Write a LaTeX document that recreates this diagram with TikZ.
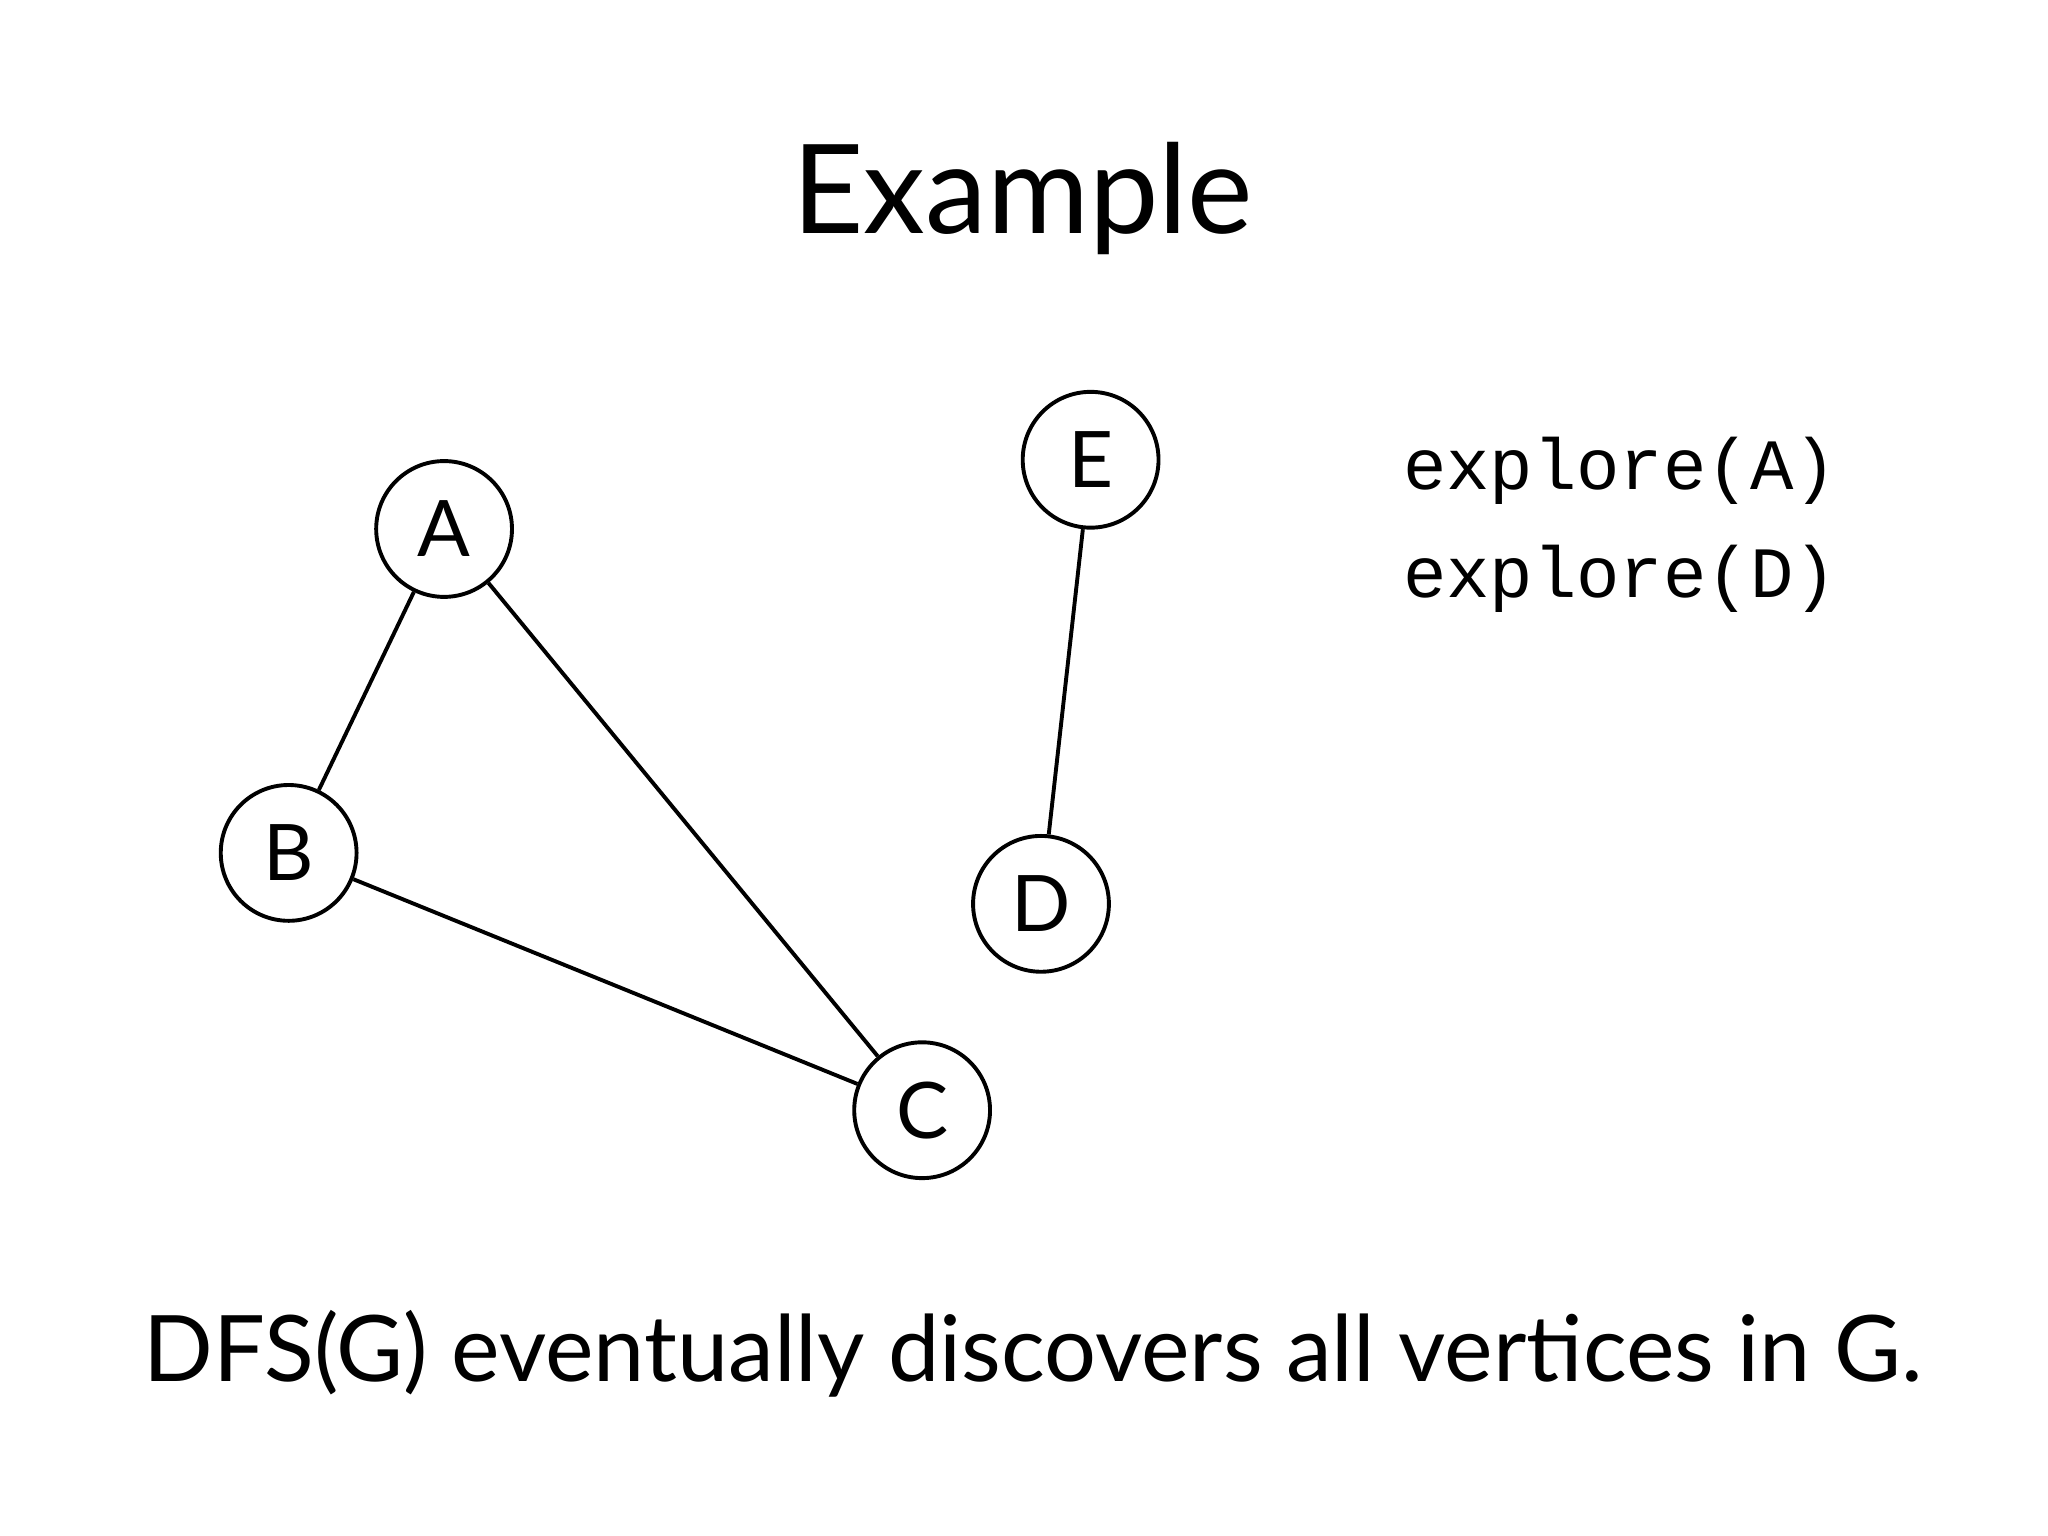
\documentclass[tikz,border=0pt]{standalone}
\usepackage{fontspec}
\setmainfont{Lato}
\setmonofont{Liberation Mono}
\begin{document}
\begin{tikzpicture}[x=0.02cm,y=-0.02cm,
  vert/.style={circle,draw,line width=1.7pt,minimum size=2.08cm,inner sep=0pt,font=\fontsize{34}{34}\selectfont},
  edge/.style={line width=1.7pt}]
\useasboundingbox (0,0) rectangle (1568,1176);
\node at (783,152) {\fontsize{54}{54}\selectfont Example};
\node[vert] (A) at (340,405) {A};
\node[vert] (E) at (835,352) {E};
\node[vert] (B) at (221,653) {B};
\node[vert] (D) at (797,692) {D};
\node[vert] (C) at (706,850) {C};
\draw[edge] (A) -- (B);
\draw[edge] (A) -- (C);
\draw[edge] (B) -- (C);
\draw[edge] (E) -- (D);
\node[anchor=west,align=left,font=\ttfamily\fontsize{31.5}{47}\selectfont] (ex) at (1068,402) {explore(A)\\explore(D)};
\node[anchor=base west] (txt) at (104,1058) {\fontsize{40}{40}\selectfont DFS(G) eventually discovers all vertices in G.};
\end{tikzpicture}
\end{document}
